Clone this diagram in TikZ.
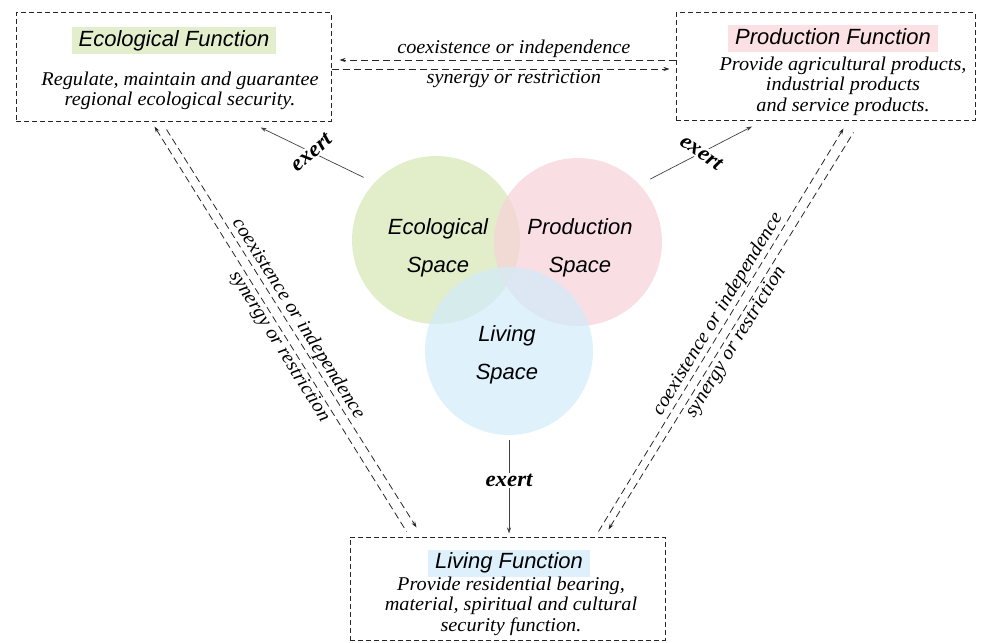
\documentclass[tikz,border=0pt]{standalone}
\usepackage{fontspec}
\setmainfont{Liberation Serif}
\newfontfamily\bodyfont[FakeStretch=1.04]{Liberation Serif}
\newfontfamily\headfont{Liberation Sans}
\usetikzlibrary{arrows.meta, calc, positioning}
\usepackage{xcolor}
\definecolor{ecogreen}{RGB}{214,230,180}
\definecolor{prodpink}{RGB}{247,210,216}
\definecolor{livblue}{RGB}{210,235,250}
\definecolor{ecotag}{RGB}{226,238,204}
\definecolor{prodtag}{RGB}{251,224,228}
\definecolor{livtag}{RGB}{222,240,251}

\begin{document}
\begin{tikzpicture}[x=1pt, y=1pt,
  >={Stealth[length=6pt, width=4pt]},
  funcbox/.style={draw=black!85, line width=1pt, dash pattern=on 5pt off 3pt, inner sep=0pt},
  functitle/.style={font=\headfont\itshape\fontsize{22}{24}\selectfont, text height=16pt, text depth=5pt, inner xsep=7pt, inner ysep=3pt},
  funcbody/.style={font=\bodyfont\itshape\fontsize{19.5}{20.5}\selectfont, align=center},
  spacecirc/.style={circle, minimum size=168pt, fill opacity=0.7},
  spacetext/.style={align=center, font=\headfont\itshape\fontsize{22}{38}\selectfont},
  link/.style={draw=black!85, line width=0.8pt, dash pattern=on 7pt off 4pt},
  linklabel/.style={font=\bodyfont\itshape\fontsize{19.5}{20}\selectfont, inner sep=1.5pt},
  exert/.style={draw=black!75, line width=0.7pt, ->, shorten <=12pt},
  exertlabel/.style={fill=white, inner sep=1pt, font=\bodyfont\bfseries\itshape\fontsize{22}{22}\selectfont}]

  \useasboundingbox (0,0) rectangle (992,-642);

  % function boxes
  \node[funcbox, minimum width=315pt, minimum height=108pt] (ecobox) at (173.5,-67) {};
  \node[funcbox, minimum width=299pt, minimum height=107pt] (prodbox) at (825.5,-66.5) {};
  \node[funcbox, minimum width=315pt, minimum height=103pt] (livbox) at (507.5,-588.5) {};

  \node[functitle, fill=ecotag] (ecotitle) at (174,-41) {Ecological Function};
  \node[funcbody] (ecotext) at (180,-91) {Regulate, maintain and guarantee\\regional ecological security.};
  \node[functitle, fill=prodtag] (prodtitle) at (833,-39) {Production Function};
  \node[funcbody] (prodtext) at (843,-86) {Provide agricultural products,\\industrial products\\and service products.};
  \node[functitle, fill=livtag] (livtitle) at (509,-563) {Living Function};
  \node[funcbody] (livtext) at (511,-606) {Provide residential bearing,\\material, spiritual and cultural\\security function.};

  % spaces
  \node[spacecirc, fill=ecogreen] (ecocirc) at (436,-240) {};
  \node[spacecirc, fill=prodpink] (prodcirc) at (578,-242) {};
  \node[spacecirc, fill=livblue] (livcirc) at (509,-351) {};
  \node[spacetext] (econame) at (438,-248) {Ecological\\Space};
  \node[spacetext] (prodname) at (580,-248) {Production\\Space};
  \node[spacetext] (livname) at (507,-355) {Living\\Space};

  % spaces exert functions
  \draw[exert] (ecocirc.137) -- node[exertlabel, rotate=40, pos=0.55] {exert} ([xshift=87pt, yshift=-6pt]ecobox.south);
  \draw[exert] (prodcirc.43) -- node[exertlabel, rotate=-35, pos=0.55] {exert} ([xshift=-73.5pt, yshift=-6pt]prodbox.south);
  \draw[exert, shorten <=5pt, shorten >=3pt] (livcirc.south) -- node[exertlabel, pos=0.45] {exert} (livcirc.south |- livbox.north);

  % ecological <-> production
  \coordinate (ep1) at ([yshift=7pt]ecobox.east);
  \coordinate (ep2) at ([yshift=-2pt]ecobox.east);
  \coordinate (pe1) at ([yshift=6.5pt]prodbox.west);
  \coordinate (pe2) at ([yshift=-2.5pt]prodbox.west);
  \draw[link, ->, shorten >=8pt] (pe1) -- node[above, pos=0.47, linklabel] {coexistence or independence} (ep1);
  \draw[link, ->, shorten >=6pt] (ep2) -- node[below, pos=0.53, linklabel] {synergy or restriction} (pe2);

  % ecological <-> living
  \coordinate (el1) at ([xshift=139pt, yshift=-5pt]ecobox.south west);
  \coordinate (el2) at ([xshift=151pt, yshift=-8pt]ecobox.south west);
  \coordinate (le1) at ([xshift=57pt, yshift=5pt]livbox.north west);
  \coordinate (le2) at ([xshift=67pt, yshift=9pt]livbox.north west);
  \draw[link, <-] (el1) -- node[below, sloped, pos=0.53, linklabel] {synergy or restriction} (le1);
  \draw[link, ->] (el2) -- node[above, sloped, pos=0.49, linklabel] {coexistence or independence} (le2);

  % production <-> living
  \coordinate (pl1) at ([xshift=-132pt, yshift=-8pt]prodbox.south east);
  \coordinate (pl2) at ([xshift=-122pt, yshift=-12pt]prodbox.south east);
  \coordinate (lp1) at ([xshift=-67pt, yshift=5pt]livbox.north east);
  \coordinate (lp2) at ([xshift=-57pt, yshift=7pt]livbox.north east);
  \draw[link, ->] (lp1) -- node[above, sloped, pos=0.525, linklabel] {coexistence or independence} (pl1);
  \draw[link, <-] (lp2) -- node[below, sloped, pos=0.485, linklabel] {synergy or restriction} (pl2);
\end{tikzpicture}
\end{document}
